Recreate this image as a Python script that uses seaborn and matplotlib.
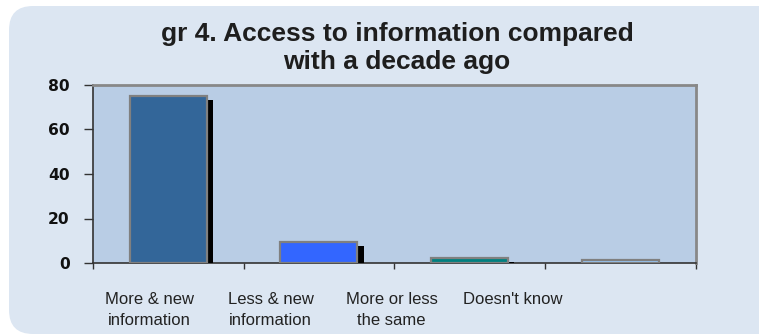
import matplotlib
matplotlib.use("Agg")
import matplotlib.pyplot as plt
import matplotlib.patheffects as pe
from matplotlib.patches import FancyBboxPatch
from matplotlib.transforms import IdentityTransform
import seaborn as sns
import pandas as pd

categories = ["More & new\ninformation", "Less & new\ninformation",
              "More or less\nthe same", "Doesn't know"]
values = [75, 9.6, 2.4, 1.5]
bar_colors = ["#336699", "#3366FF", "#008080", "#99CCFF"]
y_ticks = [0, 20, 40, 60, 80]
title = "gr 4. Access to information compared\nwith a decade ago"

# category labels sit on a tighter grid than the bars themselves
label_pos = [-0.124, 0.679, 1.482, 2.285]

sns.set_theme(style="white")
plt.rcParams["font.family"] = ["Liberation Sans", "DejaVu Sans"]

W, H, DPI = 759, 335, 100
fig = plt.figure(figsize=(W / DPI, H / DPI), dpi=DPI, facecolor="white")

# rounded panel behind the chart (pixel coordinates, origin bottom-left)
panel = FancyBboxPatch((9, H - 334), 1200, 334 - 6,
                       boxstyle="round,pad=0,rounding_size=24",
                       transform=IdentityTransform(), facecolor="#DCE6F2",
                       edgecolor="none", zorder=-5)
fig.patches.append(panel)

ax = fig.add_axes([92.7 / W, 1 - 263 / H, (696 - 92.7) / W, (263 - 85) / H])
ax.set_facecolor("#B9CDE5")
ax.set_zorder(2)

df = pd.DataFrame({"category": categories, "value": values})
sns.barplot(data=df, x="category", y="value", hue="category",
            palette=bar_colors, saturation=1, width=0.51,
            edgecolor="#808080", linewidth=1.6, legend=False, ax=ax,
            zorder=3)

shadow = [pe.SimplePatchShadow(offset=(4.4, -2.9), shadow_rgbFace="black",
                               alpha=1.0), pe.Normal()]
for p in ax.patches:
    p.set_path_effects(shadow)

ax.set_ylim(0, 80)
ax.set_xlim(-0.5, 3.5)
ax.set_yticks(y_ticks)
ax.set_yticklabels([str(t) for t in y_ticks], fontsize=11.2,
                   fontweight="bold", color="#111111", family="DejaVu Sans")
ax.set_xticks([-0.5, 0.5, 1.5, 2.5, 3.5], minor=False)
ax.set_xticklabels([])
ax.set_xticks(label_pos, minor=True)
ax.set_xticklabels(categories, minor=True, fontsize=12, color="#222222",
                   linespacing=1.45)
ax.tick_params(axis="x", which="major", direction="out", length=4.5,
               width=1, color="#333333", bottom=True)
ax.tick_params(axis="x", which="minor", length=0, pad=21)
ax.tick_params(axis="y", direction="out", length=6.5, width=1,
               color="#333333", left=True, pad=10)
ax.set_xlabel("")
ax.set_ylabel("")

for side in ["left", "bottom"]:
    ax.spines[side].set_color("#333333")
    ax.spines[side].set_linewidth(1.2)
for side in ["top", "right"]:
    ax.spines[side].set_color("#888888")
    ax.spines[side].set_linewidth(2)

fig.text(397 / W, 1 - 48 / H, title, ha="center", va="center",
         fontsize=19, fontweight="bold", color="#1e1e1e", linespacing=1.25)

fig.savefig("out.png", dpi=DPI, facecolor="white")
